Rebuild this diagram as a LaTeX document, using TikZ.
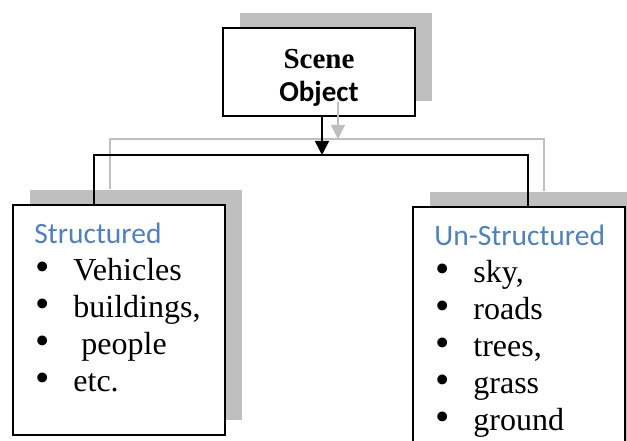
\documentclass[tikz,border=0pt]{standalone}
\usepackage{fontspec}
\setmainfont{Liberation Serif}
\newfontfamily\calibri{Carlito}
\usetikzlibrary{arrows.meta,shadows,positioning}
\definecolor{shadowgray}{HTML}{BFBFBF}
\definecolor{headblue}{HTML}{4F81BD}
\newcommand\bul{\makebox[39pt][l]{\hspace{1pt}\smash{\fontsize{41}{37}\selectfont\textbullet}}}
\newcommand\headtxt[1]{{\calibri\fontsize{29.5}{37}\selectfont\color{headblue}#1}}

\begin{document}
\begin{tikzpicture}[x=1pt,y=-1pt,
   box/.style = {draw, line width=1.6pt, fill=white, inner sep=0pt,
      drop shadow={shadow xshift=17pt, shadow yshift=15pt, fill=shadowgray, opacity=1}},
   list/.style = {anchor=north west, inner sep=0pt, align=left,
      font=\fontsize{32}{37}\selectfont},
   arrowtip/.style = {-{Triangle[width=14pt,length=14pt]}}]
   \useasboundingbox (0,0) rectangle (627,441);
   % boxes
   \node[box, minimum width=192pt, minimum height=88pt] (scene) at (319,72) {};
   \node[align=center, font=\fontsize{29}{33}\selectfont\bfseries] (scenetxt)
      at ([yshift=-6pt]scene.center) {Scene\\{\calibri Object}};
   \node[box, minimum width=212pt, minimum height=230pt] (struct) at (119,320) {};
   \node[box, minimum width=212pt, minimum height=250pt] (unstruct) at (519,332) {};
   \node[list] (structtxt) at ([xshift=22pt, yshift=-19pt]struct.north west)
      {\headtxt{Structured}\\ \bul Vehicles\\ \bul buildings,\\
       \bul\ people\\ \bul etc.};
   \node[list] (unstructtxt) at ([xshift=22pt, yshift=-19pt]unstruct.north west)
      {\headtxt{Un-Structured}\\ \bul sky,\\ \bul roads\\
       \bul trees,\\ \bul grass\\ \bul ground};
   % connectors
   \coordinate (busB) at (322,155);
   \coordinate (busG) at (338,139);
   \draw[shadowgray, line width=1.2pt] ([xshift=-9pt, yshift=15pt]struct.north)
      |- (busG) -| ([xshift=25pt, yshift=15pt]unstruct.north);
   \draw[shadowgray, line width=1.2pt, arrowtip] ([xshift=19pt, yshift=15pt]scene.south) -- (busG);
   \draw[line width=1.6pt] ([xshift=-25pt]struct.north) |- (busB) -| ([xshift=9pt]unstruct.north);
   \draw[line width=1.6pt, arrowtip] ([xshift=3pt]scene.south) -- (busB);
\end{tikzpicture}
\end{document}
